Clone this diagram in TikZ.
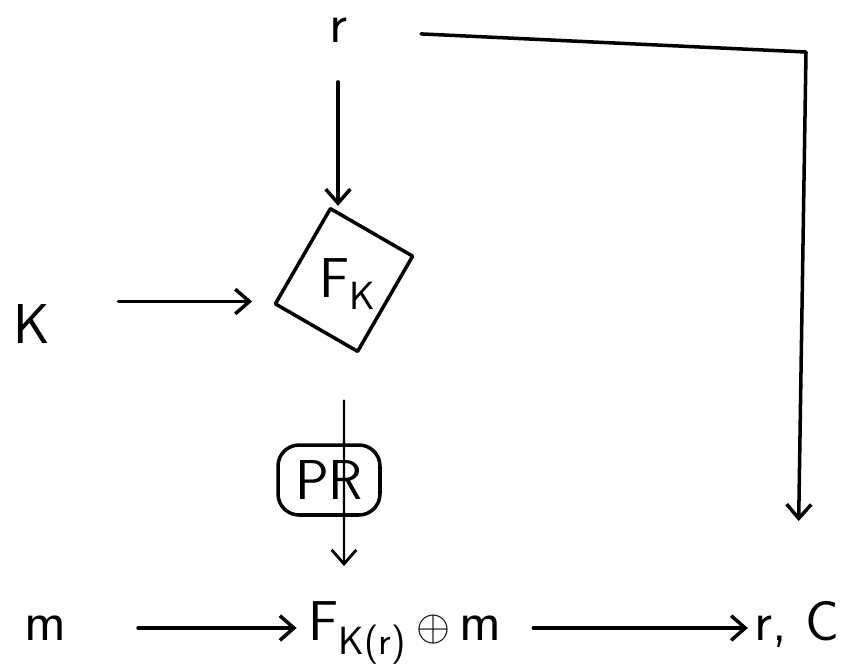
\documentclass[tikz,border=0pt]{standalone}
\usepackage{amsmath}
\usetikzlibrary{arrows.meta}
\begin{document}
\tikzset{
  lbl/.style={font=\fontsize{32}{38}\selectfont\sffamily, inner sep=1pt},
  bot/.style={lbl, text height=24pt, text depth=10pt},
  stroke/.style={line width=2pt, line cap=round, line join=round},
  arr/.style={stroke, -{Straight Barb[length=8pt,width=14pt,line width=2pt]}},
  thinarr/.style={line width=1.2pt, line cap=round, -{Straight Barb[length=8pt,width=14pt,line width=1.6pt]}},
}
\begin{tikzpicture}[x=0.02cm,y=-0.02cm]
\useasboundingbox (0,0) rectangle (845,664);
% nodes
\node[lbl] (r) at (338,30) {r};
\node[draw, stroke, rotate=-30, minimum width=1.9cm, minimum height=2.2cm, inner sep=0pt] (fkbox) at (344,280) {};
\node[lbl] (fk) at (348,284) {F$_{\textsf{K}}$};
\node[lbl] (K) at (32,324) {K};
\node[draw, stroke, rounded corners=12pt, minimum width=2.04cm, minimum height=1.4cm, lbl] (pr) at (329,480) {PR};
\node[bot] (m) at (45,628) {m};
\node[bot] (xor) at (405,628) {F$_{\textsf{K(r)}}$\,$\oplus$\,m};
\node[bot] (out) at (797,628) {r, C};
\coordinate (corner) at (806,52);
\coordinate (kout) at ([yshift=0.45cm]K.east);
% connectors
\draw[arr, shorten <=1.44cm, shorten >=1.5cm] (r) -- (corner) -- (out);
\draw[arr, shorten <=0.75cm, shorten >=0.5cm] (r) -- (r |- fkbox.north);
\draw[arr, shorten >=1.84cm] ([xshift=1.32cm]kout) -- (kout -| fkbox);
\draw[thinarr, shorten <=1.1cm, shorten >=0.6cm] (fkbox) -- (fkbox |- xor.north);
\draw[arr, shorten <=1.4cm, shorten >=0.2cm] (m) -- (xor);
\draw[arr, shorten <=0.6cm, shorten >=0.1cm] (xor) -- (out);
\end{tikzpicture}
\end{document}
